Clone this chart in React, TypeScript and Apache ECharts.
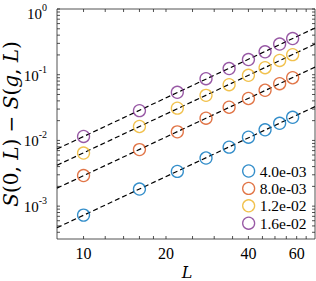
import React, { useEffect, useRef } from "react";
import * as echarts from "echarts";

// ---- data ----
const L_VALUES = [10, 16, 22, 28, 34, 40, 46, 52, 58];
const G_LABELS = ["4.0e-03", "8.0e-03", "1.2e-02", "1.6e-02"];
const S_G1 = [7.3e-4, 1.82e-3, 3.38e-3, 5.4e-3, 7.9e-3, 1.12e-2, 1.45e-2, 1.82e-2, 2.25e-2];
const S_G2 = [2.92e-3, 7.25e-3, 1.35e-2, 2.18e-2, 3.2e-2, 4.35e-2, 5.8e-2, 7.3e-2, 9.0e-2];
const S_G3 = [6.43e-3, 1.63e-2, 3.1e-2, 4.85e-2, 7.05e-2, 9.8e-2, 0.128, 0.165, 0.202];
const S_G4 = [1.15e-2, 2.84e-2, 5.4e-2, 8.7e-2, 0.124, 0.17, 0.223, 0.293, 0.355];
const SERIES_VALUES = [S_G1, S_G2, S_G3, S_G4];

// ---- axes ----
const X_MIN = 8;
const X_MAX = 70;
const Y_MIN = Math.pow(10, -3.5);
const Y_MAX = 1;
const X_TICKS = [10, 12, 14, 16, 18, 20, 25, 30, 35, 40, 45, 50, 55, 60, 65];
const X_TICK_LABELS = [10, 20, 40, 60];
const Y_MAJOR_EXP = [-3, -2, -1, 0];
const Y_MINOR_EXP = [-4, -3, -2, -1];
const Y_MINOR_MULT = [2, 3, 4, 5, 6, 7, 8, 9];

const COLORS = ["#0072BD", "#D95319", "#EDB120", "#7E2F8E"];
const AXIS = "#262626";
const SERIF = '"Liberation Serif", "Times New Roman", serif';
const MATH = '"DejaVu Serif", serif';
const TICK = 3;

function fitLine(ys: number[]): number[][] {
  const xs = L_VALUES.map((v) => Math.log10(v));
  const ly = ys.map((v) => Math.log10(v));
  const n = xs.length;
  const mx = xs.reduce((a, b) => a + b, 0) / n;
  const my = ly.reduce((a, b) => a + b, 0) / n;
  let sxy = 0;
  let sxx = 0;
  for (let i = 0; i < n; i++) {
    sxy += (xs[i] - mx) * (ly[i] - my);
    sxx += (xs[i] - mx) * (xs[i] - mx);
  }
  const a = sxy / sxx;
  const b = my - a * mx;
  return [X_MIN, X_MAX].map((x) => [x, Math.pow(10, b + a * Math.log10(x))]);
}

const yTickData: number[][] = [];
Y_MAJOR_EXP.forEach((e) => yTickData.push([X_MIN, Math.pow(10, e), 1, e]));
Y_MINOR_EXP.forEach((e) =>
  Y_MINOR_MULT.forEach((m) => {
    const v = m * Math.pow(10, e);
    if (v > Y_MIN && v < Y_MAX) yTickData.push([X_MIN, v, 0, e]);
  })
);

export default function App() {
  const ref = useRef<HTMLDivElement>(null);

  useEffect(() => {
    if (!ref.current) return;
    const chart = echarts.init(ref.current, undefined, { renderer: "svg" });

    const fitSeries = SERIES_VALUES.map((ys, i) => ({
      name: "fit" + i,
      type: "line",
      data: fitLine(ys),
      showSymbol: false,
      silent: true,
      z: 2,
      lineStyle: { color: "#000", width: 1.2, type: [5, 3] },
    }));

    const scatterSeries = SERIES_VALUES.map((ys, i) => ({
      name: G_LABELS[i],
      type: "scatter",
      data: ys.map((v, k) => [L_VALUES[k], v]),
      symbol: "circle",
      symbolSize: 12,
      z: 3,
      itemStyle: { color: "transparent", borderColor: COLORS[i], borderWidth: 1.3 },
    }));

    const xTickSeries = {
      type: "custom",
      silent: true,
      clip: false,
      z: 4,
      data: X_TICKS.map((v) => [v, Y_MIN]),
      renderItem: (params: any, api: any) => {
        const v = api.value(0);
        const b = api.coord([v, Y_MIN]);
        const t = api.coord([v, Y_MAX]);
        const children: any[] = [
          { type: "line", shape: { x1: b[0], y1: b[1], x2: b[0], y2: b[1] - TICK }, style: { stroke: AXIS, lineWidth: 0.8 } },
          { type: "line", shape: { x1: t[0], y1: t[1], x2: t[0], y2: t[1] + TICK }, style: { stroke: AXIS, lineWidth: 0.8 } },
        ];
        if (X_TICK_LABELS.indexOf(v) >= 0) {
          children.push({
            type: "text",
            x: b[0],
            y: b[1] + 14.5,
            style: { text: String(v), fill: "#000", fontSize: 16, fontFamily: SERIF, align: "center", verticalAlign: "middle" },
          });
        }
        return { type: "group", children };
      },
    };

    const yTickSeries = {
      type: "custom",
      silent: true,
      clip: false,
      z: 4,
      data: yTickData,
      renderItem: (params: any, api: any) => {
        const v = api.value(1);
        const major = api.value(2);
        const e = api.value(3);
        const l = api.coord([X_MIN, v]);
        const r = api.coord([X_MAX, v]);
        const children: any[] = [
          { type: "line", shape: { x1: l[0], y1: l[1], x2: l[0] + TICK, y2: l[1] }, style: { stroke: AXIS, lineWidth: 0.8 } },
          { type: "line", shape: { x1: r[0], y1: r[1], x2: r[0] - TICK, y2: r[1] }, style: { stroke: AXIS, lineWidth: 0.8 } },
        ];
        if (major === 1) {
          const sup = String(e);
          let supW = 0;
          for (const ch of sup) supW += ch === "-" ? 3.3 : 5;
          const xr = l[0] - 10 - supW;
          let supY = l[1] - 5.5;
          const shift = supY < 7.5 ? 7.5 - supY : 0;
          supY += shift;
          children.push({
            type: "text",
            x: xr,
            y: l[1] + 1 + shift,
            style: { text: "10", fill: "#000", fontSize: 15, fontFamily: SERIF, align: "right", verticalAlign: "middle" },
          });
          children.push({
            type: "text",
            x: xr,
            y: supY,
            style: { text: sup, fill: "#000", fontSize: 10, fontFamily: SERIF, align: "left", verticalAlign: "middle" },
          });
        }
        return { type: "group", children };
      },
    };

    chart.setOption({
      animation: false,
      backgroundColor: "#fff",
      grid: {
        left: 57,
        right: 1,
        top: 9,
        bottom: 42,
        show: true,
        borderColor: AXIS,
        borderWidth: 0.8,
        backgroundColor: "transparent",
      },
      xAxis: {
        type: "log",
        logBase: 10,
        min: X_MIN,
        max: X_MAX,
        axisLine: { show: false },
        axisTick: { show: false },
        axisLabel: { show: false },
        splitLine: { show: false },
      },
      yAxis: {
        type: "log",
        logBase: 10,
        min: Y_MIN,
        max: Y_MAX,
        axisLine: { show: false },
        axisTick: { show: false },
        axisLabel: { show: false },
        splitLine: { show: false },
      },
      legend: {
        data: G_LABELS,
        orient: "vertical",
        left: 242,
        top: 163,
        padding: 0,
        itemGap: 1.4,
        itemWidth: 12,
        itemHeight: 12,
        icon: "circle",
        itemStyle: { color: "transparent", borderWidth: 1.3 },
        textStyle: { fontFamily: SERIF, fontSize: 15.5, color: "#000", lineHeight: 16 },
      },
      graphic: [
        {
          type: "text",
          x: 11,
          y: 124,
          rotation: Math.PI / 2,
          style: {
            text: "{i|S}(0, {i|L}) − {i|S}({i|g}, {i|L})",
            rich: { i: { fontStyle: "italic", fontFamily: MATH, fontSize: 20, fill: "#000" } },
            fontFamily: MATH,
            fontSize: 20,
            fill: "#000",
            align: "center",
            verticalAlign: "middle",
          },
        },
        {
          type: "text",
          x: 187,
          y: 272,
          style: {
            text: "L",
            fontStyle: "italic",
            fontFamily: MATH,
            fontSize: 16,
            fill: "#000",
            align: "center",
            verticalAlign: "middle",
          },
        },
      ],
      series: [...fitSeries, ...scatterSeries, xTickSeries, yTickSeries],
    });

    return () => chart.dispose();
  }, []);

  return (
    <div
      ref={ref}
      style={{ position: "fixed", left: 0, top: 0, width: 316, height: 281, background: "#fff" }}
    />
  );
}
